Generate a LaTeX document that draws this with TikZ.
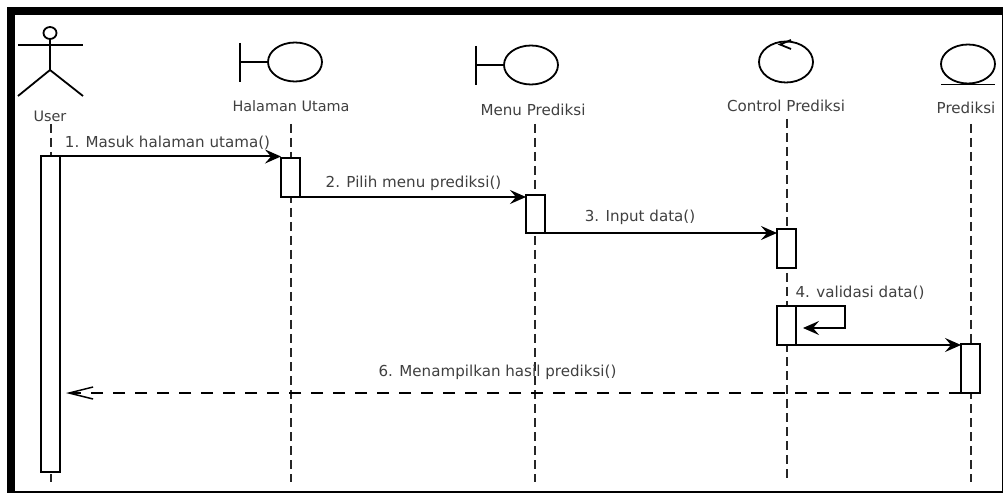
\documentclass[tikz,border=0pt]{standalone}
\usepackage{fontspec}
\setmainfont{DejaVu Sans}
\usetikzlibrary{arrows.meta,shapes.geometric}
\definecolor{txt}{gray}{0.25}
\tikzset{
  px/.style={x=1pt,y=-1pt},
  symb/.style={line width=1.8pt,draw=black},
  circ/.style={symb,ellipse,inner sep=0pt,outer sep=0pt,minimum width=54pt,minimum height=39pt},
  lbl/.style={text=txt,font=\fontsize{15.1pt}{17pt}\selectfont,inner sep=0pt,anchor=center},
  lblh/.style={lbl,font=\fontsize{14.4pt}{17pt}\selectfont},
  life/.style={draw=black!85,line width=1.3pt,dash pattern=on 9pt off 5pt},
  act/.style={draw=black,line width=2pt,fill=white,minimum width=19pt,inner sep=0pt,outer sep=0pt,anchor=north},
  msg/.style={draw=black,line width=2pt,-{Stealth[length=16pt,width=14pt,inset=6pt]}},
  ret/.style={draw=black,line width=1.5pt,dash pattern=on 12pt off 10pt,-{Straight Barb[length=24pt,width=12pt,line width=1.5pt]}}
}
\begin{document}
\begin{tikzpicture}[px]
\useasboundingbox (0,0) rectangle (1004,494);
\fill[white] (0,0) rectangle (1004,494);
% frame
\fill[black] (7,7) rectangle (1003,15);
\fill[black] (7,7) rectangle (15,493);
\fill[black] (7,491) rectangle (1003,493);
\fill[black] (1001.5,7) rectangle (1003,493);

% lifeline ends
\coordinate (u0) at (51,124); \coordinate (u1) at (51,482);
\coordinate (h0) at (291,124); \coordinate (h1) at (291,482);
\coordinate (m0) at (535,124); \coordinate (m1) at (535,482);
\coordinate (c0) at (787,119); \coordinate (c1) at (787,482);
\coordinate (p0) at (971,124); \coordinate (p1) at (971,482);
\draw[life] (u0) -- (u1);
\draw[life] (h0) -- (h1);
\draw[life] (m0) -- (m1);
\draw[life] (c0) -- (c1);
\draw[life] (p0) -- (p1);

% actor
\node[symb,ellipse,inner sep=0pt,outer sep=0pt,minimum width=13pt,minimum height=12pt] (head) at (50,33) {};
\coordinate (armL) at (18,45); \coordinate (armR) at (83,45);
\coordinate (hip) at (50,70); \coordinate (legL) at (18,96); \coordinate (legR) at (83,96);
\draw[symb] (armL) -- (armR);
\draw[symb] (head.south) -- (hip);
\draw[symb] (legL) -- (hip) -- (legR);

% boundary: Halaman Utama
\node[circ] (hc) at (295,62) {};
\coordinate (hb0) at (240,43); \coordinate (hb1) at (240,82); \coordinate (hbm) at (240,62);
\draw[symb] (hb0) -- (hb1);
\draw[symb] (hbm) -- (hc.west);
% boundary: Menu Prediksi
\node[circ] (mc) at (531,65) {};
\coordinate (mb0) at (476,46); \coordinate (mb1) at (476,85); \coordinate (mbm) at (476,65);
\draw[symb] (mb0) -- (mb1);
\draw[symb] (mbm) -- (mc.west);
% control
\node[circ,minimum height=41pt] (cc) at (786,62) {};
\coordinate (ca0) at (791,40);
\coordinate (ca1) at (780,44.5);
\coordinate (ca2) at (791,49);
\draw[symb] (ca0) -- (ca1) -- (ca2);
% entity
\node[circ] (ec) at (968,64) {};
\coordinate (el0) at (941,84.5); \coordinate (el1) at (995,84.5);
\draw[symb] (el0) -- (el1);

% labels
\node[lblh] (lu) at (50,116) {User};
\node[lblh] (lh) at (291,106) {Halaman Utama};
\node[lbl] (lm) at (533,110) {Menu Prediksi};
\node[lbl] (lc) at (786,106) {Control Prediksi};
\node[lbl] (lp) at (966,108) {Prediksi};

% activations
\node[act,minimum height=316pt] (au) at (50.5,156) {};
\node[act,minimum height=39pt] (ah) at (290.5,158) {};
\node[act,minimum height=38pt] (am) at (535.5,195) {};
\node[act,minimum height=39pt] (ac1) at (786.5,229) {};
\node[act,minimum height=39pt] (ac2) at (786.5,306) {};
\node[act,minimum height=49pt] (ap) at (970.5,344) {};

% messages
\coordinate (s1) at (au.east |- 0,156.5);
\coordinate (t1) at (ah.west |- 0,156.5);
\draw[msg] (s1) -- (t1);
\draw[msg] (ah.south east) -- (am.west |- ah.south);
\coordinate (s3) at (am.south east);
\draw[msg] (s3) -- (ac1.west |- s3);
\coordinate (l0) at (ac2.north east);
\coordinate (l1) at (845,306); \coordinate (l2) at (845,328); \coordinate (l3) at (803,328);
\draw[draw=black,line width=1.8pt,line join=miter,-{Stealth[length=16pt,width=14pt,inset=6pt]}] (l0) -- (l1) -- (l2) -- (l3);
\draw[msg] (ac2.south east) -- (ap.west |- ac2.south);
\coordinate (t6) at (66,393);
\draw[ret] (ap.south west) -- (t6);

% message labels
\node[lbl] (n1) at (167.5,143) {1. Masuk halaman utama()};
\node[lbl] (n2) at (413.5,183) {2. Pilih menu prediksi()};
\node[lbl] (n3) at (640,217) {3. Input data()};
\node[lbl] (n4) at (860,293) {4. validasi data()};
\node[lbl] (n6) at (497.5,372) {6. Menampilkan hasil prediksi()};
\end{tikzpicture}
\end{document}
